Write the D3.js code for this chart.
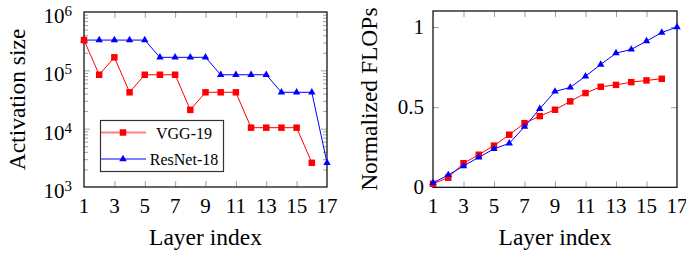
<html>
<head>
    <meta charset="utf-8">
    <title>Activation size and FLOPs</title>
    <style>
        body {
            padding: 0;
            margin: 0;
            background: white;
            font-family: "Liberation Serif", serif;
        }

        .tick line {
            stroke: #a0a0a0;
        }

        .domain {
            display: none;
        }

        .frame {
            fill: none;
            stroke: black;
            stroke-width: 1.2;
        }

        .ticklabel {
            font-size: 21px;
            fill: black;
        }

        .axislabel {
            font-size: 23.5px;
            fill: black;
        }

        .legendtext {
            font-size: 16px;
        }
    </style>
</head>

<body>
    <div id="chart"></div>

    <script src="https://d3js.org/d3.v7.min.js"></script>

    <script>
        // layer indices for the two networks
        var vggLayers = [1, 2, 3, 4, 5, 6, 7, 8, 9, 10, 11, 12, 13, 14, 15, 16];
        var resnetLayers = [1, 2, 3, 4, 5, 6, 7, 8, 9, 10, 11, 12, 13, 14, 15, 16, 17];

        // activation size per layer
        var vggActivation = [330000, 84000, 167000, 42000, 84000, 84000, 84000, 21000,
            42000, 42000, 42000, 10400, 10400, 10400, 10400, 2600];
        var resnetActivation = [330000, 330000, 330000, 330000, 330000, 167000, 167000, 167000, 167000,
            84000, 84000, 84000, 84000, 42000, 42000, 42000, 2600];

        // normalized cumulative FLOPs
        var vggFlops = [0.022, 0.06, 0.15, 0.203, 0.26, 0.328, 0.40, 0.444, 0.484, 0.536,
            0.588, 0.627, 0.639, 0.656, 0.667, 0.677];
        var resnetFlops = [0.027, 0.077, 0.133, 0.187, 0.24, 0.274, 0.378, 0.49, 0.598, 0.623,
            0.693, 0.766, 0.837, 0.86, 0.912, 0.966, 1.0];

        var xTicks = [1, 3, 5, 7, 9, 11, 13, 15, 17];
        var logTicks = [1e3, 1e4, 1e5, 1e6];
        var logExponents = ["3", "4", "5", "6"];
        var flopTicks = [0, 0.5, 1];
        var flopTickLabels = ["0", "0.5", "1"];

        var seriesNames = ["VGG-19", "ResNet-18"];

        var width = 686,
            height = 256;

        var svg = d3.select("#chart")
            .append("svg")
            .attr("width", width)
            .attr("height", height);

        var redColor = "#ff0000",
            blueColor = "#0000ff";

        var square = d3.symbol().type(d3.symbolSquare).size(42);
        var triangle = d3.symbol().type(d3.symbolTriangle).size(24);

        // ---------- left panel: activation size (log) ----------
        var left = { x0: 84, x1: 327, y0: 12, y1: 187 };

        var xL = d3.scaleLinear().domain([1, 17]).range([left.x0, left.x1]);
        var yL = d3.scaleLog().domain([1e3, 1e6]).range([left.y1, left.y0]);

        var gL = svg.append("g");

        var minorTicks = [];
        [1e3, 1e4, 1e5].forEach(function (base) {
            [2, 3, 4, 5, 6, 7, 8, 9].forEach(function (m) {
                minorTicks.push(base * m);
            });
        });

        // inside ticks on all four sides
        gL.append("g")
            .attr("transform", "translate(0," + left.y1 + ")")
            .call(d3.axisBottom(xL).tickValues(xTicks.slice(1, -1)).tickSize(-6).tickFormat(""));
        gL.append("g")
            .attr("transform", "translate(0," + left.y0 + ")")
            .call(d3.axisTop(xL).tickValues(xTicks.slice(1, -1)).tickSize(-6).tickFormat(""));
        gL.append("g")
            .attr("transform", "translate(" + left.x0 + ",0)")
            .call(d3.axisLeft(yL).tickValues(logTicks.slice(1, -1)).tickSize(-6).tickFormat(""));
        gL.append("g")
            .attr("transform", "translate(" + left.x1 + ",0)")
            .call(d3.axisRight(yL).tickValues(logTicks.slice(1, -1)).tickSize(-6).tickFormat(""));
        gL.append("g")
            .attr("transform", "translate(" + left.x0 + ",0)")
            .call(d3.axisLeft(yL).tickValues(minorTicks).tickSize(-4).tickFormat(""));
        gL.append("g")
            .attr("transform", "translate(" + left.x1 + ",0)")
            .call(d3.axisRight(yL).tickValues(minorTicks).tickSize(-4).tickFormat(""));

        gL.append("rect")
            .attr("class", "frame")
            .attr("x", left.x0)
            .attr("y", left.y0)
            .attr("width", left.x1 - left.x0)
            .attr("height", left.y1 - left.y0);

        // tick labels
        gL.selectAll(".xlab")
            .data(xTicks)
            .enter()
            .append("text")
            .attr("class", "ticklabel")
            .attr("x", function (d) { return xL(d); })
            .attr("y", 213)
            .attr("text-anchor", "middle")
            .text(function (d) { return d; });

        var logLab = gL.selectAll(".ylab")
            .data(logTicks)
            .enter()
            .append("text")
            .attr("class", "ticklabel")
            .attr("x", 72)
            .attr("y", function (d) { return yL(d) + 11; })
            .attr("text-anchor", "end");
        logLab.append("tspan").text("10");
        logLab.append("tspan")
            .attr("dy", -7)
            .attr("font-size", "15px")
            .text(function (d, i) { return logExponents[i]; });

        gL.append("text")
            .attr("class", "axislabel")
            .attr("text-anchor", "middle")
            .attr("x", (left.x0 + left.x1) / 2)
            .attr("y", 245)
            .text("Layer index");

        gL.append("text")
            .attr("class", "axislabel")
            .attr("text-anchor", "middle")
            .attr("transform", "translate(25," + (left.y0 + left.y1) / 2 + ") rotate(-90)")
            .text("Activation size");

        var lineL = function (xs) {
            return d3.line()
                .x(function (d, i) { return xL(xs[i]); })
                .y(function (d) { return yL(d); });
        };

        gL.append("path")
            .datum(resnetActivation)
            .attr("d", lineL(resnetLayers))
            .attr("fill", "none")
            .attr("stroke", blueColor);
        gL.append("path")
            .datum(vggActivation)
            .attr("d", lineL(vggLayers))
            .attr("fill", "none")
            .attr("stroke", redColor);

        gL.selectAll(".tri")
            .data(resnetActivation)
            .enter()
            .append("path")
            .attr("d", triangle)
            .attr("fill", blueColor)
            .attr("transform", function (d, i) { return "translate(" + xL(resnetLayers[i]) + "," + yL(d) + ")"; });
        gL.selectAll(".sq")
            .data(vggActivation)
            .enter()
            .append("path")
            .attr("d", square)
            .attr("fill", redColor)
            .attr("transform", function (d, i) { return "translate(" + xL(vggLayers[i]) + "," + yL(d) + ")"; });

        // legend
        var legend = gL.append("g");
        legend.append("rect")
            .attr("x", 100.5)
            .attr("y", 120.5)
            .attr("width", 123)
            .attr("height", 51)
            .attr("fill", "white")
            .attr("stroke", "#333")
            .attr("stroke-width", 1.2);

        var legendRows = [
            { name: seriesNames[0], color: redColor, light: "#ff8080", mark: square, y: 132.5 },
            { name: seriesNames[1], color: blueColor, light: "#8080ff", mark: triangle, y: 159 }
        ];
        legendRows.forEach(function (r) {
            legend.append("line")
                .attr("x1", 101).attr("x2", 146)
                .attr("y1", r.y).attr("y2", r.y)
                .attr("stroke", r.light)
                .attr("stroke-width", 2);
            legend.append("path")
                .attr("d", r.mark)
                .attr("fill", r.color)
                .attr("transform", "translate(123," + r.y + ")");
            legend.append("text")
                .attr("class", "legendtext")
                .attr("x", 184)
                .attr("y", r.y + 6)
                .attr("text-anchor", "middle")
                .text(r.name);
        });

        // ---------- right panel: normalized FLOPs ----------
        var right = { x0: 433, x1: 677, y0: 11, y1: 187.3 };

        var xR = d3.scaleLinear().domain([1, 17]).range([right.x0, right.x1]);
        var yR = d3.scaleLinear().domain([0, 1.1]).range([right.y1, right.y0]);

        var gR = svg.append("g");

        gR.append("g")
            .attr("transform", "translate(0," + right.y1 + ")")
            .call(d3.axisBottom(xR).tickValues(xTicks.slice(1, -1)).tickSize(-6).tickFormat(""));
        gR.append("g")
            .attr("transform", "translate(0," + right.y0 + ")")
            .call(d3.axisTop(xR).tickValues(xTicks.slice(1, -1)).tickSize(-6).tickFormat(""));
        gR.append("g")
            .attr("transform", "translate(" + right.x0 + ",0)")
            .call(d3.axisLeft(yR).tickValues(flopTicks.slice(1)).tickSize(-6).tickFormat(""));
        gR.append("g")
            .attr("transform", "translate(" + right.x1 + ",0)")
            .call(d3.axisRight(yR).tickValues(flopTicks.slice(1)).tickSize(-6).tickFormat(""));

        gR.append("rect")
            .attr("class", "frame")
            .attr("x", right.x0)
            .attr("y", right.y0)
            .attr("width", right.x1 - right.x0)
            .attr("height", right.y1 - right.y0);

        gR.selectAll(".xlab")
            .data(xTicks)
            .enter()
            .append("text")
            .attr("class", "ticklabel")
            .attr("x", function (d) { return xR(d); })
            .attr("y", 213)
            .attr("text-anchor", "middle")
            .text(function (d) { return d; });

        gR.selectAll(".ylab")
            .data(flopTicks)
            .enter()
            .append("text")
            .attr("class", "ticklabel")
            .attr("x", 424)
            .attr("y", function (d) { return yR(d) + 7; })
            .attr("text-anchor", "end")
            .text(function (d, i) { return flopTickLabels[i]; });

        gR.append("text")
            .attr("class", "axislabel")
            .attr("text-anchor", "middle")
            .attr("x", (right.x0 + right.x1) / 2)
            .attr("y", 245)
            .text("Layer index");

        gR.append("text")
            .attr("class", "axislabel")
            .attr("text-anchor", "middle")
            .attr("transform", "translate(377," + (right.y0 + right.y1) / 2 + ") rotate(-90)")
            .text("Normalized FLOPs");

        var lineR = function (xs) {
            return d3.line()
                .x(function (d, i) { return xR(xs[i]); })
                .y(function (d) { return yR(d); });
        };

        gR.append("path")
            .datum(vggFlops)
            .attr("d", lineR(vggLayers))
            .attr("fill", "none")
            .attr("stroke", redColor);
        gR.selectAll(".sq")
            .data(vggFlops)
            .enter()
            .append("path")
            .attr("d", square)
            .attr("fill", redColor)
            .attr("transform", function (d, i) { return "translate(" + xR(vggLayers[i]) + "," + yR(d) + ")"; });

        gR.append("path")
            .datum(resnetFlops)
            .attr("d", lineR(resnetLayers))
            .attr("fill", "none")
            .attr("stroke", blueColor);
        gR.selectAll(".tri")
            .data(resnetFlops)
            .enter()
            .append("path")
            .attr("d", triangle)
            .attr("fill", blueColor)
            .attr("transform", function (d, i) { return "translate(" + xR(resnetLayers[i]) + "," + yR(d) + ")"; });
    </script>
</body>
</html>
